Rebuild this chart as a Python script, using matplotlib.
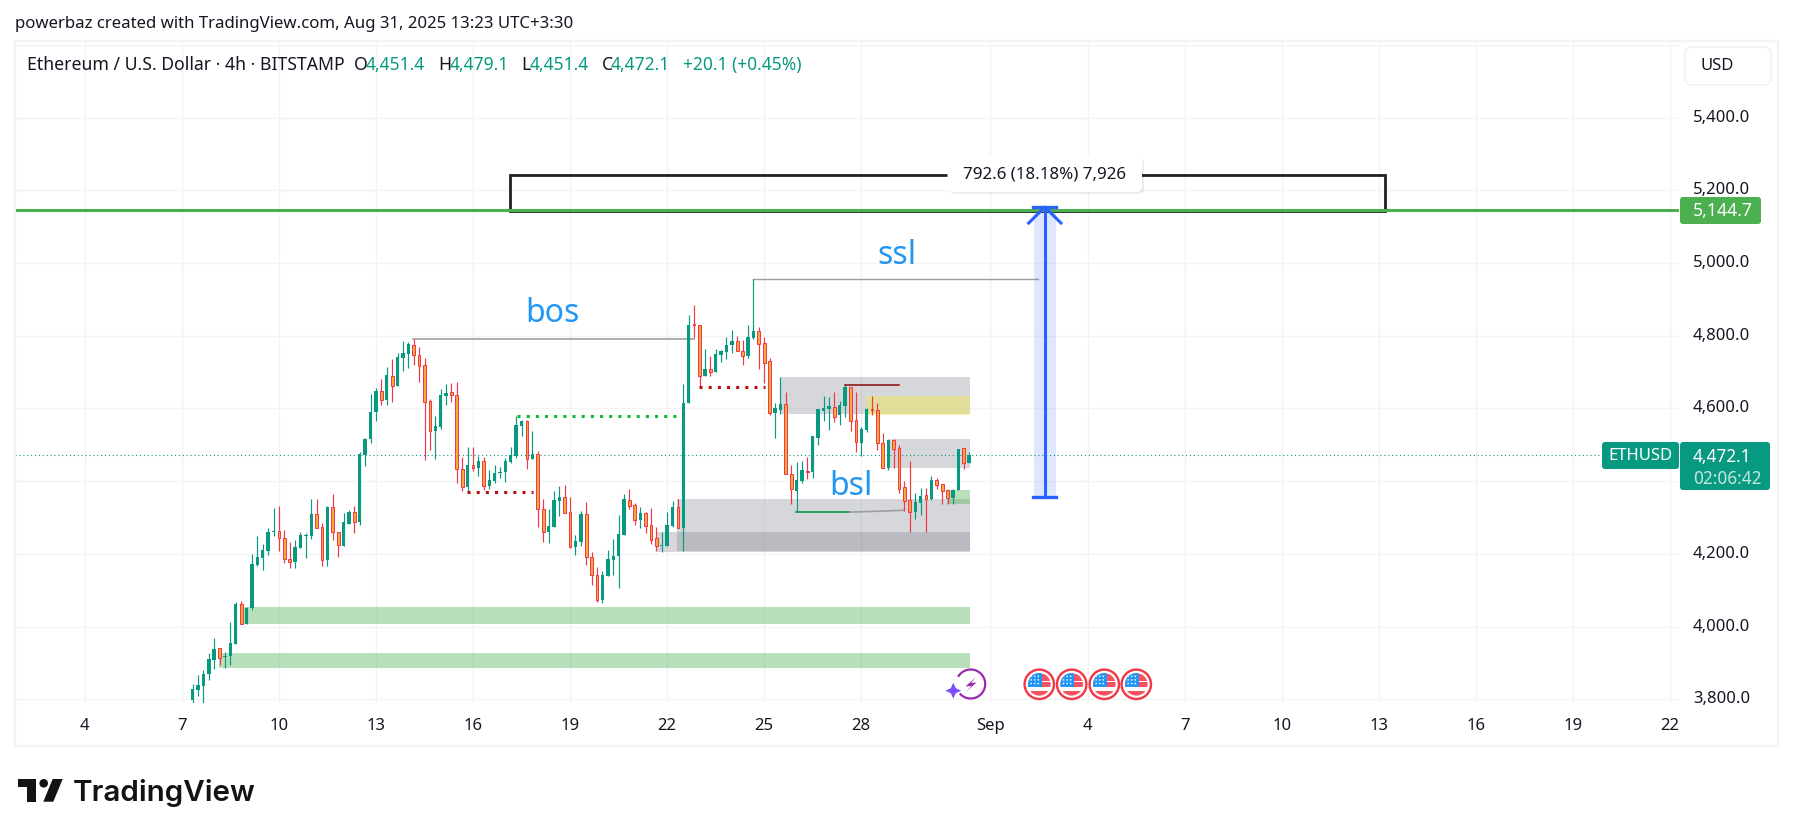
import matplotlib
matplotlib.use("Agg")
import matplotlib.pyplot as plt
import numpy as np
from matplotlib.patches import Arc, Circle, FancyBboxPatch, Polygon, Rectangle
from matplotlib.transforms import ScaledTranslation

plt.rcParams['font.family'] = ['Noto Sans', 'DejaVu Sans']

# 4h candles, Aug 7 to Aug 31 2025
opens = [3798, 3826, 3837, 3870, 3909, 3941, 3917, 3918, 3953, 4062, 4008, 4050, 4170, 4189, 4209, 4261,
         4262, 4243, 4185, 4179, 4217, 4250, 4250, 4309, 4273, 4184, 4328, 4260, 4223, 4283, 4315, 4288,
         4472, 4517, 4589, 4647, 4624, 4690, 4663, 4740, 4751, 4776, 4748, 4719, 4620, 4539, 4550, 4635,
         4645, 4636, 4433, 4385, 4444, 4437, 4455, 4388, 4401, 4422, 4424, 4453, 4470, 4553, 4565, 4462,
         4474, 4323, 4259, 4274, 4346, 4356, 4314, 4220, 4233, 4309, 4191, 4141, 4073, 4140, 4183, 4195,
         4252, 4347, 4334, 4293, 4312, 4279, 4243, 4223, 4223, 4277, 4328, 4271, 4616, 4832, 4829, 4690,
         4710, 4700, 4748, 4756, 4775, 4787, 4757, 4744, 4795, 4813, 4779, 4730, 4588, 4596, 4611, 4419,
         4374, 4400, 4428, 4426, 4520, 4593, 4599, 4603, 4583, 4607, 4658, 4567, 4505, 4541, 4598, 4595,
         4504, 4435, 4513, 4490, 4383, 4348, 4316, 4341, 4361, 4351, 4402, 4391, 4375, 4355, 4375, 4490,
         4451.4]
highs = [3842, 3867, 3881, 3927, 3968, 3941, 3929, 4013, 4068, 4071, 4053, 4200, 4250, 4228, 4271, 4326,
         4332, 4266, 4232, 4238, 4260, 4257, 4351, 4351, 4284, 4332, 4365, 4260, 4312, 4321, 4332, 4480,
         4520, 4640, 4656, 4680, 4713, 4736, 4752, 4786, 4783, 4792, 4768, 4738, 4626, 4578, 4653, 4667,
         4670, 4673, 4466, 4494, 4494, 4470, 4466, 4431, 4445, 4440, 4463, 4494, 4580, 4568, 4568, 4537,
         4483, 4351, 4324, 4374, 4387, 4389, 4356, 4252, 4318, 4342, 4205, 4163, 4154, 4211, 4241, 4307,
         4365, 4378, 4341, 4328, 4316, 4325, 4274, 4260, 4314, 4346, 4350, 4667, 4857, 4884, 4829, 4763,
         4744, 4765, 4761, 4797, 4816, 4799, 4788, 4830, 4956, 4824, 4796, 4738, 4616, 4686, 4645, 4444,
         4453, 4456, 4466, 4524, 4598, 4634, 4631, 4645, 4621, 4664, 4660, 4645, 4550, 4601, 4634, 4614,
         4532, 4516, 4515, 4499, 4400, 4456, 4367, 4381, 4382, 4414, 4409, 4393, 4378, 4378, 4488, 4490,
         4479.1]
lows = [3780, 3808, 3790, 3853, 3883, 3895, 3887, 3895, 3952, 4008, 4008, 4046, 4167, 4156, 4197, 4248,
        4208, 4176, 4162, 4162, 4217, 4190, 4242, 4270, 4167, 4167, 4237, 4192, 4223, 4282, 4258, 4280,
        4443, 4505, 4566, 4610, 4610, 4618, 4663, 4704, 4712, 4720, 4674, 4457, 4486, 4461, 4544, 4610,
        4619, 4396, 4374, 4374, 4428, 4414, 4376, 4379, 4396, 4408, 4399, 4451, 4464, 4523, 4434, 4462,
        4275, 4233, 4231, 4274, 4305, 4312, 4217, 4197, 4223, 4170, 4114, 4069, 4066, 4140, 4141, 4107,
        4252, 4323, 4280, 4272, 4258, 4227, 4208, 4206, 4223, 4273, 4270, 4209, 4616, 4793, 4658, 4690,
        4690, 4700, 4727, 4736, 4754, 4757, 4720, 4740, 4790, 4709, 4670, 4582, 4520, 4585, 4419, 4338,
        4314, 4396, 4407, 4408, 4500, 4566, 4542, 4563, 4555, 4577, 4539, 4480, 4470, 4535, 4583, 4486,
        4437, 4431, 4437, 4368, 4319, 4261, 4296, 4307, 4261, 4348, 4378, 4337, 4337, 4337, 4375, 4433,
        4451.4]
closes = [3828, 3840, 3870, 3911, 3939, 3915, 3920, 3954, 4062, 4008, 4051, 4172, 4191, 4211, 4260, 4263,
          4243, 4185, 4179, 4218, 4252, 4252, 4309, 4272, 4184, 4329, 4259, 4224, 4287, 4315, 4289, 4474,
          4515, 4590, 4647, 4624, 4691, 4663, 4741, 4752, 4777, 4748, 4718, 4619, 4539, 4551, 4636, 4642,
          4638, 4433, 4385, 4444, 4436, 4455, 4388, 4403, 4422, 4426, 4455, 4471, 4554, 4565, 4462, 4474,
          4323, 4259, 4277, 4348, 4356, 4313, 4220, 4235, 4310, 4191, 4141, 4073, 4141, 4185, 4193, 4254,
          4350, 4333, 4294, 4312, 4278, 4239, 4223, 4225, 4279, 4328, 4272, 4614, 4831, 4829, 4690, 4710,
          4701, 4749, 4758, 4776, 4787, 4757, 4745, 4796, 4813, 4778, 4724, 4588, 4600, 4611, 4419, 4378,
          4402, 4430, 4425, 4524, 4598, 4600, 4606, 4577, 4609, 4659, 4566, 4507, 4543, 4599, 4597, 4504,
          4437, 4513, 4489, 4379, 4346, 4316, 4343, 4359, 4352, 4402, 4390, 4374, 4355, 4376, 4488, 4451,
          4472.1]

price_ticks = [3800, 4000, 4200, 4400, 4600, 4800, 5000, 5200, 5400, 5600]
price_labels = ['3,800.0', '4,000.0', '4,200.0', '4,400.0', '4,600.0', '4,800.0', '5,000.0', '5,200.0',
                '5,400.0', '']
# days counted from Aug 1, so Sep 1 is 32
day_ticks = [4, 7, 10, 13, 16, 19, 22, 25, 28, 32, 35, 38, 41, 44, 47, 50, 53]
day_labels = ['4', '7', '10', '13', '16', '19', '22', '25', '28', 'Sep', '4', '7', '10', '13', '16', '19', '22']

last_price = 4472.1
target_price = 5144.7

# start day, end day, top, bottom
grey_zones = [(25.50, 31.37, 4686, 4585), (28.90, 31.37, 4516, 4436),
              (22.31, 31.37, 4351, 4209), (21.68, 31.37, 4260, 4205)]
yellow_zone = (28.14, 31.37, 4634, 4583)
green_zones = [(30.65, 31.37, 4377, 4337), (8.81, 31.37, 4054, 4008), (8.15, 31.37, 3928, 3887)]
target_box = (17.15, 44.19, 5242, 5142)
measure_day, measure_low, measure_high = 33.68, 4357, 5154

TV_GREEN = '#089981'
TV_RED = '#F23645'
INK = '#131722'
GRID = '#F2F3F5'
W, H = 1793, 836

fig = plt.figure(figsize=(W / 100, H / 100), dpi=100)
ax = fig.add_axes([15 / W, 1 - 703 / H, (1679 - 15) / W, (703 - 42) / H])
ax.set_xlim(1.85, 53.28)
ax.set_ylim(3790, 5608)
ax.yaxis.tick_right()
ax.set_yticks(price_ticks)
ax.set_yticklabels(price_labels, fontsize=12, color=INK)
ax.set_xticks(day_ticks)
ax.set_xticklabels(day_labels, fontsize=12, color=INK)
ax.tick_params(length=0)
ax.tick_params(axis='y', pad=10)
ax.tick_params(axis='x', pad=11)
ax.grid(True, color=GRID, lw=1)
ax.set_axisbelow(True)
for s in ax.spines.values():
    s.set_visible(False)
for t in ax.get_yticklabels():
    t.set_transform(t.get_transform() + ScaledTranslation(0, 2 / 100, fig.dpi_scale_trans))

for x0, x1, top, bot in grey_zones:
    ax.add_patch(Rectangle((x0, bot), x1 - x0, top - bot, fc='#787B86', alpha=.3, lw=0, zorder=1))
x0, x1, top, bot = yellow_zone
ax.add_patch(Rectangle((x0, bot), x1 - x0, top - bot, fc='#F7EC45', alpha=.42, lw=0, zorder=1))
for x0, x1, top, bot in green_zones:
    ax.add_patch(Rectangle((x0, bot), x1 - x0, top - bot, fc='#4CAF50', alpha=.4, lw=0, zorder=1))

# candles
xs = 7.34 + np.arange(len(opens)) / 6
o, h, l, c = map(np.array, (opens, highs, lows, closes))
up = c >= o
ax.vlines(xs[up], l[up], h[up], color=TV_GREEN, lw=.85, zorder=3)
ax.vlines(xs[~up], l[~up], h[~up], color=TV_RED, lw=.85, zorder=3)
ax.bar(xs[up], (c - o)[up].clip(min=2), bottom=o[up], width=.105, color=TV_GREEN, lw=0, zorder=4)
ax.bar(xs[~up], (o - c)[~up].clip(min=2), bottom=c[~up], width=.085, facecolor='#F7A93B',
       edgecolor=TV_RED, lw=.7, zorder=4)

# drawings
ax.plot([14.15, 22.84], [4792, 4792], color='#9E9E9E', lw=1.2, zorder=2)
ax.plot([24.67, 33.48], [4956, 4956], color='#9E9E9E', lw=1, zorder=2)
ax.plot([15.83, 17.85], [4370, 4370], color='#B80F0F', lw=2.2, ls=(0, (1, 2)), dash_capstyle='butt', zorder=5)
ax.plot([22.99, 25.03], [4658, 4658], color='#B80F0F', lw=2.2, ls=(0, (1, 2)), dash_capstyle='butt', zorder=5)
ax.plot([17.36, 22.46], [4578, 4578], color='#0CBB2F', lw=2.2, ls=(0, (1, 2)), dash_capstyle='butt', zorder=5)
ax.plot([25.99, 27.66], [4315, 4315], color='#089950', lw=1.2, zorder=2)
ax.plot([27.66, 29.34], [4315, 4320], color='#9E9E9E', lw=1.2, zorder=2)
ax.plot([27.50, 29.16], [4664, 4664], color='#8E1A1A', lw=1.2, zorder=5)

ax.axhline(last_price, color=TV_GREEN, lw=.8, ls=(0, (1, 2.5)), zorder=2)
x0, x1, top, bot = target_box
ax.add_patch(Rectangle((x0, bot), x1 - x0, top - bot, fc='none', ec='#212121', lw=2, zorder=5))
ax.axhline(target_price, color='#4CAF50', lw=2.2, zorder=6)

# price range tool
ax.add_patch(Rectangle((measure_day - .35, measure_low), .7, measure_high - measure_low,
                       fc='#2962FF', alpha=.15, lw=0, zorder=5))
ax.plot([measure_day, measure_day], [measure_low, measure_high], color='#2962FF', lw=2.2, zorder=7)
ax.plot([measure_day - .36, measure_day + .36], [measure_low, measure_low], color='#2962FF', lw=2.4, zorder=7)
ax.plot([measure_day - .36, measure_day + .36], [measure_high, measure_high], color='#2962FF', lw=2.4, zorder=7)
ax.plot([measure_day - .5, measure_day, measure_day + .5], [measure_high - 44, measure_high, measure_high - 44],
        color='#2962FF', lw=2.2, zorder=7)

ax.text(18.47, 4860, 'bos', color='#2196F3', fontsize=23, ha='center', va='center', zorder=8)
ax.text(29.1, 5020, 'ssl', color='#2196F3', fontsize=23, ha='center', va='center', zorder=8)
ax.text(27.69, 4385, 'bsl', color='#2196F3', fontsize=23, ha='center', va='center', zorder=8)

# everything around the chart, in pixels
top_ax = fig.add_axes([0, 0, 1, 1], zorder=5)
top_ax.set_xlim(0, W)
top_ax.set_ylim(H, 0)
top_ax.axis('off')


def box(x0, y0, x1, y1, color, ec='none', r=3, z=2, lw=0):
    top_ax.add_patch(FancyBboxPatch((x0, y0), x1 - x0, y1 - y0, boxstyle=f'round,pad=0,rounding_size={r}',
                                    fc=color, ec=ec, lw=lw, zorder=z))


def label(x, y, s, color=INK, size=12, ha='left', **kw):
    top_ax.text(x, y, s, color=color, fontsize=size, ha=ha, va='center', zorder=6, **kw)


top_ax.add_patch(Rectangle((15, 41), 1763, 704.5, fc='none', ec='#F3F3F3', lw=1.6, zorder=1))
box(1685, 47, 1771, 85, 'white', ec='#F0F0F0', r=7, lw=1)
label(1700, 66.5, 'USD')

label(15, 24.5, 'powerbaz created with TradingView.com, Aug 31, 2025 13:23 UTC+3:30', size=12.1)
label(27, 65, 'Ethereum / U.S. Dollar · 4h · BITSTAMP', size=12.7)
for x, s in [(354, 'O'), (438, 'H'), (521, 'L'), (601.6, 'C')]:
    label(x, 65, s, size=12.7)
for x, s in [(366, '4,451.4'), (450, '4,479.1'), (530, '4,451.4'), (611, '4,472.1'), (683, '+20.1 (+0.45%)')]:
    label(x, 65, s, color=TV_GREEN, size=12.5)

# measure label
box(949, 158, 1144, 194, '#000000', r=6, z=2)
top_ax.patches[-1].set_alpha(.07)
box(947.5, 155, 1142, 192, 'white', r=6, z=3)
label(1044.7, 174.5, '792.6 (18.18%) 7,926', ha='center', size=12.2)

# price tags
box(1680, 197, 1761, 224, '#4CAF50')
label(1693, 211.5, '5,144.7', color='white', size=12.7)
box(1602, 442, 1679, 469, TV_GREEN)
label(1640.5, 456.5, 'ETHUSD', color='white', ha='center')
box(1680, 442, 1770, 490, TV_GREEN)
label(1693, 457.5, '4,472.1', color='white', size=12.4)
label(1693, 478.5, '02:06:42', color='#C4E6DF', size=12.4)

# event icons
cx, cy = 970.7, 684
top_ax.add_patch(Arc((cx, cy), 29, 29, theta1=210, theta2=499, color='#9C27B0', lw=1.6, zorder=3))
top_ax.add_patch(Polygon([(976, 677), (965.5, 686.5), (971.5, 686), (966, 692), (976.5, 682.5), (971, 683)],
                         fc='#9C27B0', lw=0, zorder=3))
top_ax.add_patch(Polygon([(953.3, 682.7), (955.8, 688.2), (961.3, 690.7), (955.8, 693.2), (953.3, 698.7),
                          (950.8, 693.2), (945.3, 690.7), (950.8, 688.2)], fc='#7C4DFF', lw=0, zorder=3))

for cx in [1039.3, 1071.7, 1104.3, 1136.3]:
    top_ax.add_patch(Circle((cx, 684.3), 14.7, fc='white', ec='#F23645', lw=1.7, zorder=3))
    clip = Circle((cx, 684.3), 11.3, fc='white', lw=0, zorder=4)
    top_ax.add_patch(clip)
    shapes = [Rectangle((cx - 12, 674), 24, 6.6, fc='#F7525F', lw=0),
              Rectangle((cx - 12, 682.3), 24, 4.3, fc='#F7525F', lw=0),
              Rectangle((cx - 12, 690.6), 24, 6, fc='#F7525F', lw=0),
              Rectangle((cx - 12, 673), 14.3, 13.6, fc='#2196F3', lw=0)]
    for dy in (-8, -4.4, -0.8):
        for dx in (-8.2, -4.6, -1):
            shapes.append(Circle((cx + dx, 684.3 + dy), .8, fc='white', lw=0))
    for shape in shapes:
        shape.set_zorder(5)
        top_ax.add_patch(shape)
        shape.set_clip_path(clip)

# logo
top_ax.add_patch(Polygon([(18, 779), (36, 779), (36, 801.7), (26.7, 801.7), (26.7, 786.7), (18, 786.7)],
                         fc='#131313', lw=0))
top_ax.add_patch(Circle((43.7, 783.3), 4.3, fc='#131313', lw=0))
top_ax.add_patch(Polygon([(52.7, 779), (62.7, 779), (53.3, 801.7), (43.3, 801.7)], fc='#131313', lw=0))
top_ax.text(73, 800.7, 'TradingView', color='#131313', fontsize=21.3, family='Inter', weight='semibold',
            va='baseline', ha='left')

fig.savefig('out.png', dpi=100)
